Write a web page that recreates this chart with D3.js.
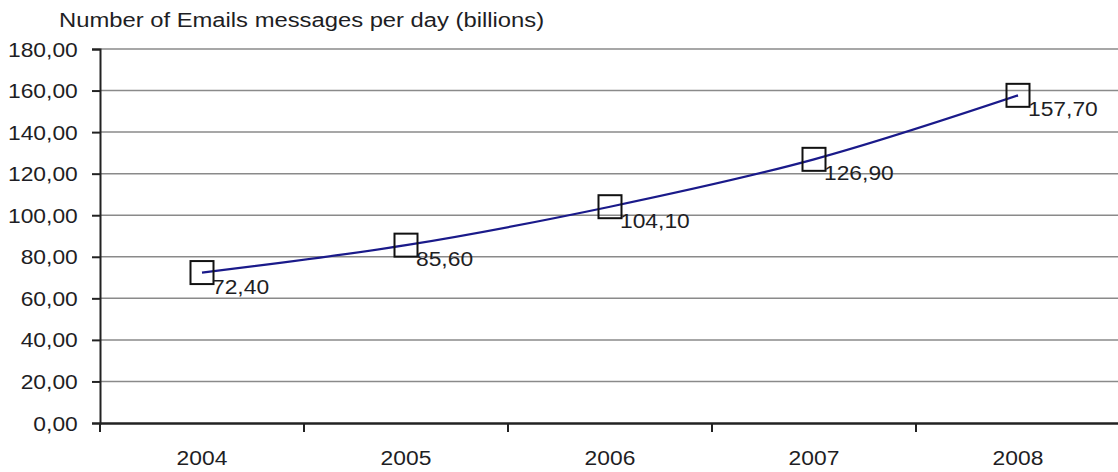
<!DOCTYPE html>
<html>
<head>
<meta charset="utf-8">
<script src="https://cdn.jsdelivr.net/npm/d3@7"></script>
<style>
  html, body { margin: 0; padding: 0; background: #fff; }
  svg { display: block; }
  text { font-family: "Liberation Sans", Arial, sans-serif; fill: #1e1e24; }
</style>
</head>
<body>
<svg id="chart" width="1118" height="472"></svg>
<script>
// Email traffic per day, in billions
const years = ["2004", "2005", "2006", "2007", "2008"];
const emails = [72.4, 85.6, 104.1, 126.9, 157.7];
const yTicks = [0, 20, 40, 60, 80, 100, 120, 140, 160, 180];
const title = "Number of Emails messages per day (billions)";

const W = 1118, H = 472;
const margin = { left: 100, right: -2, top: 49, bottom: 49 };
const fontSize = 19.5;
const stretch = 1.17;          // wide glyphs of the original renderer
const fmt = v => d3.format(".2f")(v).replace(".", ",");

const svg = d3.select("#chart");

const x = d3.scaleBand()
  .domain(years)
  .range([margin.left, W - margin.right])
  .padding(0);

const y = d3.scaleLinear()
  .domain([0, 180])
  .range([H - margin.bottom, margin.top]);

// horizontal grid lines
svg.append("g")
  .selectAll("line")
  .data(yTicks.filter(d => d > 0))
  .join("line")
  .attr("x1", margin.left)
  .attr("x2", W)
  .attr("y1", d => y(d))
  .attr("y2", d => y(d))
  .attr("stroke", "#8a8a8a")
  .attr("stroke-width", 1.5);

// y axis
const yAxis = svg.append("g")
  .attr("transform", `translate(${margin.left},0)`)
  .call(d3.axisLeft(y).tickValues(yTicks).tickFormat(fmt).tickSize(8).tickPadding(11));
yAxis.select(".domain").attr("stroke", "#222").attr("stroke-width", 2);
yAxis.selectAll(".tick line").attr("stroke", "#222").attr("stroke-width", 2);
yAxis.selectAll(".tick text")
  .attr("font-size", fontSize)
  .attr("font-family", "Liberation Sans, Arial, sans-serif")
  .attr("fill", "#1e1e24")
  .attr("dy", "0.36em")
  .attr("transform", `scale(${stretch},1)`);

// x axis: labels centred in each band, ticks at band edges
const xAxisY = y(0);
const xAxis = svg.append("g")
  .attr("transform", `translate(0,${xAxisY})`)
  .call(d3.axisBottom(x).tickSize(0).tickPadding(28));
xAxis.select(".domain").attr("stroke", "#222").attr("stroke-width", 2.5);
xAxis.selectAll(".tick text")
  .attr("font-size", fontSize)
  .attr("font-family", "Liberation Sans, Arial, sans-serif")
  .attr("fill", "#1e1e24")
  .attr("dy", "0.71em")
  .attr("transform", `scale(${stretch},1)`);

const edges = years.map(d => x(d));
xAxis.append("g")
  .selectAll("line")
  .data(edges)
  .join("line")
  .attr("x1", d => d)
  .attr("x2", d => d)
  .attr("y1", 0)
  .attr("y2", 9)
  .attr("stroke", "#222")
  .attr("stroke-width", 2);

// data series
const pts = years.map((d, i) => ({ year: d, value: emails[i] }));
const cx = d => x(d.year) + x.bandwidth() / 2;
const cy = d => y(d.value);

svg.append("path")
  .datum(pts)
  .attr("fill", "none")
  .attr("stroke", "#1a1a8a")
  .attr("stroke-width", 2.2)
  .attr("d", d3.line().x(cx).y(cy).curve(d3.curveCatmullRom.alpha(0.5)));

const mark = 23;
svg.append("g")
  .selectAll("rect")
  .data(pts)
  .join("rect")
  .attr("x", d => cx(d) - mark / 2)
  .attr("y", d => cy(d) - mark / 2)
  .attr("width", mark)
  .attr("height", mark)
  .attr("fill", "none")
  .attr("stroke", "#111")
  .attr("stroke-width", 2);

// value labels
svg.append("g")
  .selectAll("text")
  .data(pts)
  .join("text")
  .attr("transform", d => `translate(${cx(d) + 10},${cy(d) + 21}) scale(${stretch},1)`)
  .attr("font-size", fontSize)
  .text(d => fmt(d.value));

// chart title
svg.append("text")
  .attr("transform", `translate(59,27) scale(1.19,1)`)
  .attr("font-size", 20)
  .text(title);
</script>
</body>
</html>
